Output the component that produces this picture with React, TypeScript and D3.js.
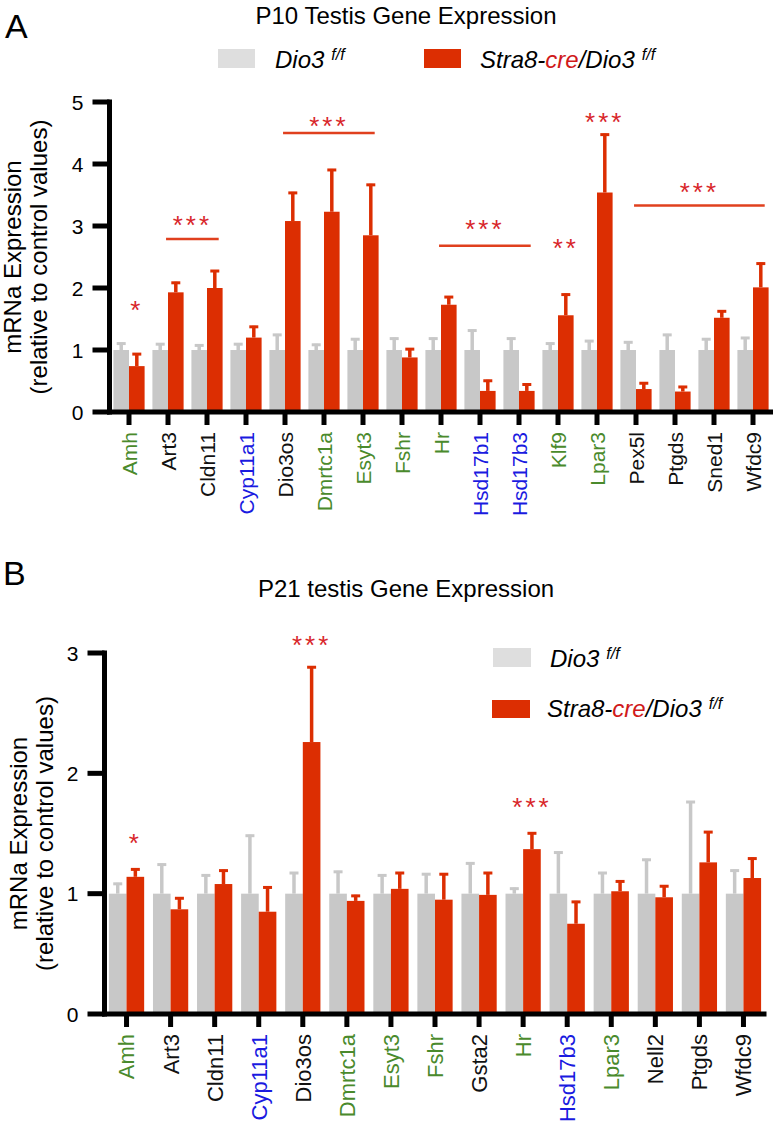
import React from 'react';
import * as d3 from 'd3';

// ---- data: panel A (P10) ----
const catsA = ['Amh', 'Art3', 'Cldn11', 'Cyp11a1', 'Dio3os', 'Dmrtc1a', 'Esyt3', 'Fshr', 'Hr', 'Hsd17b1', 'Hsd17b3', 'Klf9', 'Lpar3', 'Pex5l', 'Ptgds', 'Sned1', 'Wfdc9'];
const kindA = ['g', 'k', 'k', 'b', 'k', 'g', 'g', 'g', 'g', 'b', 'b', 'g', 'g', 'k', 'k', 'k', 'k'];
const ctrlA = [1, 1, 1, 1, 1, 1, 1, 1, 1, 1, 1, 1, 1, 1, 1, 1, 1];
const ctrlErrA = [0.12, 0.11, 0.09, 0.11, 0.26, 0.1, 0.19, 0.2, 0.2, 0.33, 0.2, 0.12, 0.16, 0.14, 0.26, 0.19, 0.21];
const koA = [0.74, 1.93, 2.0, 1.2, 3.08, 3.23, 2.85, 0.88, 1.73, 0.34, 0.34, 1.56, 3.54, 0.37, 0.33, 1.52, 2.01];
const koErrA = [0.21, 0.17, 0.29, 0.19, 0.47, 0.69, 0.83, 0.15, 0.14, 0.18, 0.12, 0.35, 0.95, 0.11, 0.09, 0.12, 0.4];
const ticksA = [0, 1, 2, 3, 4, 5];
// significance: bracket lines over several genes, and single marks
const linesA = [
  { from: 'Art3', to: 'Cldn11', y: 2.79, starY: 3.1, label: '***' },
  { from: 'Dio3os', to: 'Esyt3', y: 4.5, starY: 4.7, label: '***' },
  { from: 'Hr', to: 'Hsd17b3', y: 2.68, starY: 3.03, label: '***' },
  { from: 'Pex5l', to: 'Wfdc9', y: 3.33, starY: 3.63, label: '***' },
];
const marksA = [
  { cat: 'Amh', y: 1.73, label: '*' },
  { cat: 'Klf9', y: 2.72, label: '**' },
  { cat: 'Lpar3', y: 4.76, label: '***' },
];

// ---- data: panel B (P21) ----
const catsB = ['Amh', 'Art3', 'Cldn11', 'Cyp11a1', 'Dio3os', 'Dmrtc1a', 'Esyt3', 'Fshr', 'Gsta2', 'Hr', 'Hsd17b3', 'Lpar3', 'Nell2', 'Ptgds', 'Wfdc9'];
const kindB = ['g', 'k', 'k', 'b', 'k', 'g', 'g', 'g', 'k', 'g', 'b', 'g', 'k', 'k', 'k'];
const ctrlB = [1, 1, 1, 1, 1, 1, 1, 1, 1, 1, 1, 1, 1, 1, 1];
const ctrlErrB = [0.09, 0.25, 0.16, 0.49, 0.18, 0.19, 0.16, 0.17, 0.26, 0.05, 0.35, 0.18, 0.29, 0.77, 0.2];
const koB = [1.14, 0.87, 1.08, 0.85, 2.26, 0.94, 1.04, 0.95, 0.99, 1.37, 0.75, 1.02, 0.97, 1.26, 1.13];
const koErrB = [0.07, 0.1, 0.12, 0.21, 0.63, 0.05, 0.14, 0.22, 0.19, 0.14, 0.19, 0.09, 0.1, 0.26, 0.17];
const ticksB = [0, 1, 2, 3];
const marksB = [
  { cat: 'Amh', y: 1.46, label: '*' },
  { cat: 'Dio3os', y: 3.11, label: '***' },
  { cat: 'Hr', y: 1.76, label: '***' },
];

const FONT = '"Liberation Sans", Arial, Helvetica, sans-serif';
const GREY = '#c8c8c8';
const GREY_LEG = '#dedede';
const RED = '#dc2e02';
const STAR = '#d8262a';
const LABEL_COLORS: Record<string, string> = { g: '#4a8a2c', b: '#1a1ae0', k: '#111111' };

type Mark = { cat: string; y: number; label: string };
type Bracket = { from: string; to: string; y: number; starY: number; label: string };

interface PanelProps {
  cats: string[];
  kinds: string[];
  ctrl: number[];
  ctrlErr: number[];
  ko: number[];
  koErr: number[];
  ticks: number[];
  yRange: [number, number];
  xRange: [number, number];
  labelTop: number;
  labelSize: number;
  yLabelX: [number, number];
  lines: Bracket[];
  marks: Mark[];
}

const Stars: React.FC<{ x: number; cy: number; text: string }> = ({ x, cy, text }) => (
  <text x={x} y={cy + 14} textAnchor="middle" fontSize={26} fill={STAR} fontFamily={FONT} letterSpacing={3}>
    {text}
  </text>
);

const Panel: React.FC<PanelProps> = (p) => {
  const yMax = p.ticks[p.ticks.length - 1];
  const y = d3.scaleLinear().domain([0, yMax]).range(p.yRange);
  const x = d3.scaleBand().domain(p.cats).range(p.xRange).paddingInner(0).paddingOuter(0);
  const step = x.step();
  const w = step * 0.4;
  const cx = (c: string) => (x(c) as number) + step / 2;
  const axisX = p.xRange[0];
  const y0 = y(0);
  const yMid = (y(0) + y(yMax)) / 2;

  const errBar = (xc: number, v: number, e: number, color: string, key: string) => (
    <g key={key}>
      <line x1={xc} x2={xc} y1={y(v)} y2={y(v + e)} stroke={color} strokeWidth={3.5} />
      <line x1={xc - 4.5} x2={xc + 4.5} y1={y(v + e) + 1} y2={y(v + e) + 1} stroke={color} strokeWidth={3} />
    </g>
  );

  return (
    <g>
      {/* control bars */}
      {p.cats.map((c, i) => (
        <g key={'c' + c}>
          {errBar(cx(c) - w / 2, p.ctrl[i], p.ctrlErr[i], GREY, 'ce' + c)}
          <rect x={cx(c) - w} y={y(p.ctrl[i])} width={w} height={y0 - y(p.ctrl[i])} fill={GREY} />
        </g>
      ))}
      {/* knockout bars */}
      {p.cats.map((c, i) => (
        <g key={'k' + c}>
          {errBar(cx(c) + w / 2, p.ko[i], p.koErr[i], RED, 'ke' + c)}
          <rect x={cx(c)} y={y(p.ko[i])} width={w} height={y0 - y(p.ko[i])} fill={RED} />
        </g>
      ))}

      {/* y axis */}
      <line x1={axisX} x2={axisX} y1={y(yMax) - 2.5} y2={y0 + 2.5} stroke="#000" strokeWidth={5} />
      {p.ticks.map((t) => (
        <g key={'t' + t}>
          <line x1={axisX - 17} x2={axisX} y1={y(t)} y2={y(t)} stroke="#000" strokeWidth={5} />
          <text x={axisX - 26} y={y(t)} dy="0.36em" textAnchor="end" fontSize={21} fontFamily={FONT}>
            {t}
          </text>
        </g>
      ))}
      {/* x axis */}
      <line x1={axisX - 2.5} x2={p.xRange[1] + 1} y1={y0} y2={y0} stroke="#000" strokeWidth={5} />
      {p.cats.map((c, i) => (
        <g key={'x' + c}>
          <line x1={cx(c)} x2={cx(c)} y1={y0} y2={y0 + 13} stroke="#000" strokeWidth={5} />
          <text
            transform={`translate(${cx(c)},${p.labelTop}) rotate(-90)`}
            dy="0.36em"
            textAnchor="end"
            fontSize={p.labelSize}
            fontFamily={FONT}
            fill={LABEL_COLORS[p.kinds[i]]}
          >
            {c}
          </text>
        </g>
      ))}

      {/* y axis title */}
      <text transform={`translate(${p.yLabelX[0]},${yMid}) rotate(-90)`} textAnchor="middle" fontSize={24} fontFamily={FONT}>
        mRNa Expression
      </text>
      <text transform={`translate(${p.yLabelX[1]},${yMid}) rotate(-90)`} textAnchor="middle" fontSize={24} fontFamily={FONT}>
        (relative to control values)
      </text>

      {/* significance */}
      {p.lines.map((l) => {
        const x1 = cx(l.from) - step * 0.05;
        const x2 = cx(l.to) + step * 0.3;
        return (
          <g key={'l' + l.from}>
            <line x1={x1} x2={x2} y1={y(l.y)} y2={y(l.y)} stroke="#e0401e" strokeWidth={2.5} />
            <Stars x={(x1 + x2) / 2} cy={y(l.starY)} text={l.label} />
          </g>
        );
      })}
      {p.marks.map((m) => (
        <Stars key={'m' + m.cat} x={cx(m.cat) + w / 2} cy={y(m.y)} text={m.label} />
      ))}
    </g>
  );
};

const LegendText: React.FC<{ x: number; y: number; cre?: boolean }> = ({ x, y, cre }) => (
  <text x={x} y={y} fontSize={24} fontFamily={FONT} fontStyle="italic" fill="#000">
    {cre ? (
      <>
        <tspan>Stra8-</tspan>
        <tspan fill="#d01a1a">cre</tspan>
        <tspan>/Dio3</tspan>
      </>
    ) : (
      <tspan>Dio3</tspan>
    )}
    <tspan dx={7} dy={-8} fontSize={16}>f/f</tspan>
  </text>
);

const App: React.FC = () => (
  <svg width={773} height={1133} style={{ position: 'absolute', left: 0, top: 0, background: '#fff' }}>
    {/* panel A */}
    <text x={5} y={38} fontSize={34} fontFamily={FONT}>A</text>
    <text x={406} y={24} textAnchor="middle" fontSize={24} fontFamily={FONT}>P10 Testis Gene Expression</text>
    <rect x={218} y={49} width={37} height={19} fill={GREY_LEG} />
    <LegendText x={275} y={68} />
    <rect x={424} y={49} width={37} height={19} fill={RED} />
    <LegendText x={480} y={68} cre />
    <Panel
      cats={catsA}
      kinds={kindA}
      ctrl={ctrlA}
      ctrlErr={ctrlErrA}
      ko={koA}
      koErr={koErrA}
      ticks={ticksA}
      yRange={[412, 102]}
      xRange={[109.5, 772.5]}
      labelTop={432}
      labelSize={21}
      yLabelX={[21, 47]}
      lines={linesA}
      marks={marksA}
    />

    {/* panel B */}
    <text x={3} y={585} fontSize={34} fontFamily={FONT}>B</text>
    <text x={406} y={597} textAnchor="middle" fontSize={24} fontFamily={FONT}>P21 testis Gene Expression</text>
    <rect x={493} y={648} width={38} height={19} fill={GREY_LEG} />
    <LegendText x={550} y={667} />
    <rect x={492} y={700} width={38} height={18} fill={RED} />
    <LegendText x={547} y={717} cre />
    <Panel
      cats={catsB}
      kinds={kindB}
      ctrl={ctrlB}
      ctrlErr={ctrlErrB}
      ko={koB}
      koErr={koErrB}
      ticks={ticksB}
      yRange={[1014, 653]}
      xRange={[104.5, 765.5]}
      labelTop={1034}
      labelSize={22}
      yLabelX={[27, 53]}
      lines={[]}
      marks={marksB}
    />
  </svg>
);

export default App;
